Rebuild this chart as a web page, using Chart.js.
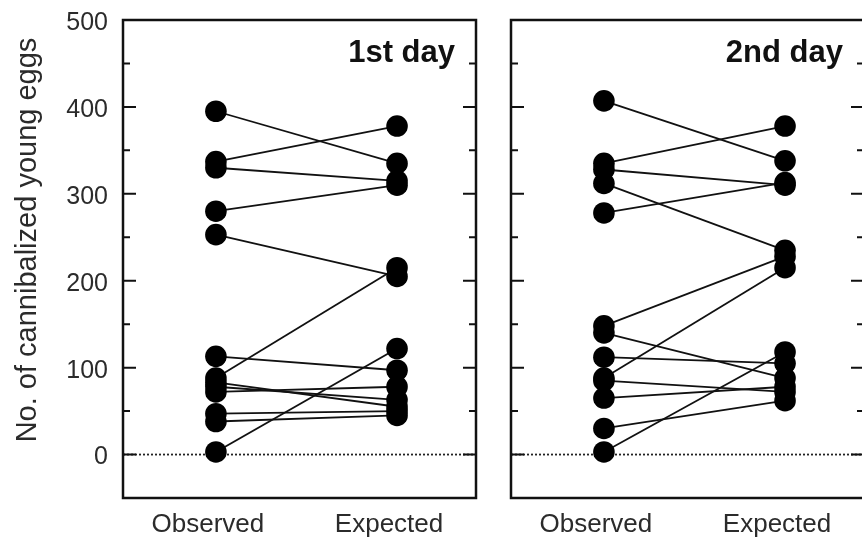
<!DOCTYPE html>
<html>
<head>
<meta charset="utf-8">
<script src="https://cdn.jsdelivr.net/npm/chart.js@4.4.1/dist/chart.umd.min.js"></script>
<style>
  html, body { margin: 0; padding: 0; background: #fff; overflow: hidden; }
  #wrap { position: relative; width: 862px; height: 543px; overflow: hidden; }
  .panel { position: absolute; top: 0; height: 543px; }
  #day1 { left: 0; width: 490px; }
  #day2 { left: 490px; width: 400px; }
</style>
</head>
<body>
<div id="wrap">
  <div class="panel" id="day1"><canvas id="c1"></canvas></div>
  <div class="panel" id="day2"><canvas id="c2"></canvas></div>
</div>
<script>
// categories and y ticks
const groups = ['Observed', 'Expected'];
const yTicks = [0, 100, 200, 300, 400, 500];
const yMinorTicks = [50, 150, 250, 350, 450];
const yTitle = 'No. of cannibalized young eggs';

// paired values (one line per pair)
const day1Observed = [395, 337, 330, 280, 253, 113, 88, 83, 78, 72, 47, 38, 3];
const day1Expected = [335, 378, 315, 310, 205, 97, 215, 55, 63, 78, 50, 45, 122];
const day2Observed = [407, 335, 328, 312, 278, 148, 140, 112, 88, 85, 65, 30, 3];
const day2Expected = [338, 378, 310, 235, 313, 228, 88, 105, 215, 72, 78, 62, 118];

const FONT = '"Liberation Sans", Arial, Helvetica, sans-serif';
const TEXT = '#2b2b2b';

// frame, inward ticks, dotted zero line, panel label (and y title on the left panel)
const framePlugin = {
  id: 'frame',
  beforeDatasetsDraw(chart, args, opts) {
    const { ctx, chartArea: a, scales: { y } } = chart;
    ctx.save();
    const y0 = y.getPixelForValue(0);
    ctx.strokeStyle = '#222';
    ctx.lineWidth = 1.8;
    ctx.setLineDash([2, 2]);
    ctx.beginPath();
    ctx.moveTo(a.left, y0);
    ctx.lineTo(a.right, y0);
    ctx.stroke();
    ctx.setLineDash([]);

    ctx.strokeStyle = '#111';
    ctx.lineWidth = 2;
    const tick = (v, len) => {
      const py = y.getPixelForValue(v);
      ctx.beginPath();
      ctx.moveTo(a.left, py); ctx.lineTo(a.left + len, py);
      ctx.moveTo(a.right, py); ctx.lineTo(a.right - len, py);
      ctx.stroke();
    };
    yTicks.forEach(v => tick(v, 13));
    yMinorTicks.forEach(v => tick(v, 7));

    ctx.lineWidth = 2.5;
    ctx.strokeRect(a.left, a.top, a.right - a.left, a.bottom - a.top);

    ctx.fillStyle = '#111';
    ctx.font = 'bold 31px ' + FONT;
    ctx.textAlign = 'right';
    ctx.textBaseline = 'middle';
    ctx.fillText(opts.label, a.right - 21, a.top + 33);

    if (opts.title) {
      ctx.translate(28, 240);
      ctx.rotate(-Math.PI / 2);
      ctx.textAlign = 'center';
      ctx.fillStyle = TEXT;
      ctx.font = '29px ' + FONT;
      ctx.fillText(opts.title, 0, 0);
    }
    ctx.restore();
  }
};

function makePanel(canvasId, observed, expected, label, showY, pad) {
  const datasets = observed.map((o, i) => ({
    data: [{ x: 0, y: o }, { x: 1, y: expected[i] }],
    borderColor: '#111',
    borderWidth: 1.8,
    backgroundColor: '#000',
    pointBackgroundColor: '#000',
    pointBorderColor: '#000',
    pointRadius: 10.8,
    pointBorderWidth: 0,
    tension: 0
  }));

  return new Chart(document.getElementById(canvasId), {
    type: 'line',
    data: { datasets },
    plugins: [framePlugin],
    options: {
      responsive: true,
      maintainAspectRatio: false,
      animation: false,
      events: [],
      layout: { padding: pad },
      plugins: {
        legend: { display: false },
        tooltip: { enabled: false },
        frame: { label, title: showY ? yTitle : null }
      },
      scales: {
        x: {
          type: 'linear',
          min: -0.513,
          max: 1.436,
          grid: { display: false, drawTicks: false },
          border: { display: false },
          afterBuildTicks: s => { s.ticks = groups.map((g, i) => ({ value: i })); },
          afterFit: s => { s.height = 45; s.paddingLeft = 0; s.paddingRight = 0; },
          ticks: {
            callback: v => groups[v],
            labelOffset: -8,
            padding: 11,
            maxRotation: 0,
            autoSkip: false,
            color: TEXT,
            font: { family: FONT, size: 26 }
          }
        },
        y: {
          display: showY,
          min: -50,
          max: 500,
          grid: { display: false, drawTicks: false },
          border: { display: false },
          afterBuildTicks: s => { s.ticks = yTicks.map(v => ({ value: v })); },
          afterFit: s => {
            if (showY) s.width = 123;
            s.paddingTop = 0;
            s.paddingBottom = 0;
          },
          ticks: {
            padding: 15,
            labelOffset: 3,
            color: TEXT,
            font: { family: FONT, size: 25 }
          }
        }
      }
    }
  });
}

makePanel('c1', day1Observed, day1Expected, '1st day', true,
  { left: 0, right: 14, top: 20, bottom: 0 });
makePanel('c2', day2Observed, day2Expected, '2nd day', false,
  { left: 21, right: 26, top: 20, bottom: 0 });
</script>
</body>
</html>
